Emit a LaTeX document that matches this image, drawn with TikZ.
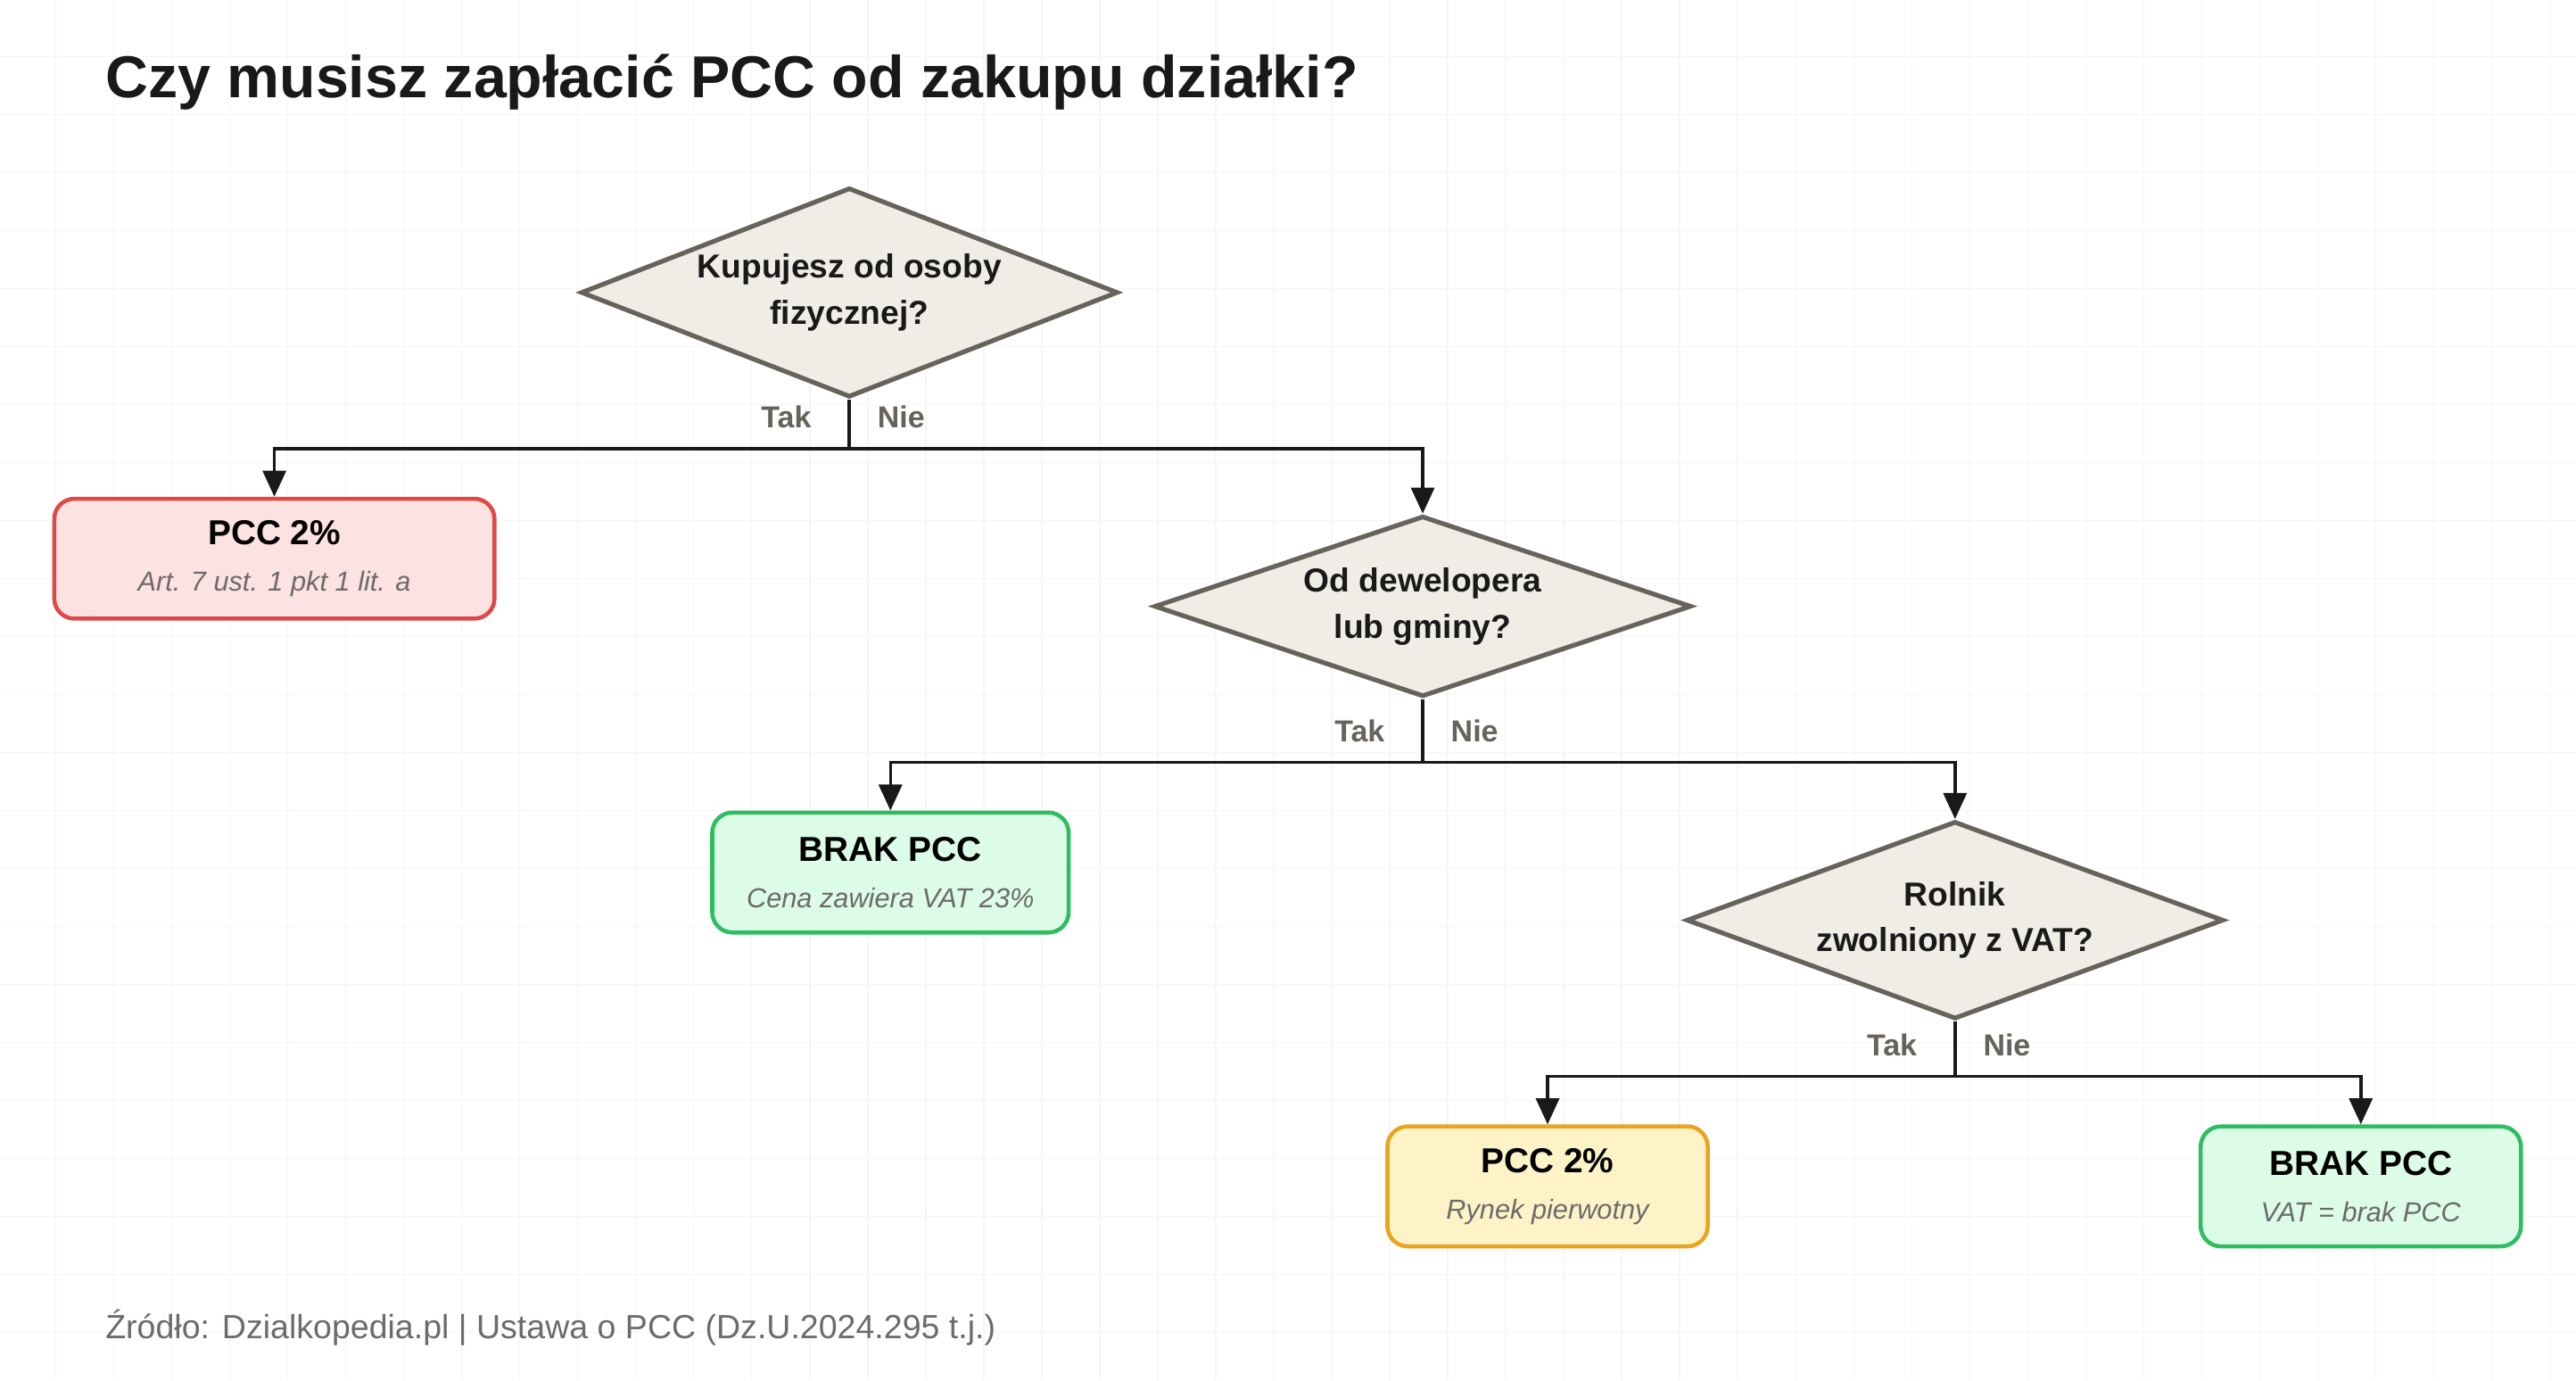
\documentclass[tikz,border=0pt]{standalone}
\usepackage{fontspec}
\setmainfont{Liberation Sans}
\usetikzlibrary{shapes.geometric,positioning,arrows.meta}
\definecolor{inkgray}{HTML}{66625C}
\definecolor{dfill}{HTML}{F0EDE6}
\definecolor{redfill}{HTML}{FDE2E2}
\definecolor{reddraw}{HTML}{E04848}
\definecolor{grnfill}{HTML}{DCFCE7}
\definecolor{grndraw}{HTML}{2EBD5F}
\definecolor{ylwfill}{HTML}{FEF3C7}
\definecolor{ylwdraw}{HTML}{EAA520}
\definecolor{txtgray}{HTML}{6B6B6B}
\tikzset{
  decision/.style={diamond, aspect=2.3, draw=inkgray, fill=dfill, line width=1.6pt, minimum width=6.54cm, inner sep=0pt, align=center, font=\fontsize{11.5}{16}\selectfont\bfseries, text=black!90},
  result/.style={rounded corners=7pt, line width=1.4pt, minimum height=1.46cm, align=center},
  flow/.style={line width=1.1pt, black!90},
  arr/.style={flow, -{Triangle[length=9pt, width=8pt]}},
  yesno/.style={font=\fontsize{10.5}{12}\selectfont\bfseries, text=inkgray}
}
\begin{document}
\begin{tikzpicture}[x=0.02cm, y=-0.02cm]
    \useasboundingbox (0,0) rectangle (1568,840);
    \fill[white] (0,0) rectangle (1568,840);
    % grid
    \foreach \g in {0,...,45}
    {
    \draw[black!4, line width=0.4pt] (34+35.3*\g,0) -- (34+35.3*\g,840);
    \draw[black!4, line width=0.4pt] (0,-1+35.3*\g) -- (1568,-1+35.3*\g);
    }

    \node[anchor=west, font=\fontsize{20.5}{24}\selectfont\bfseries, text=black!90] (title) at (58,50) {Czy musisz zapłacić PCC od zakupu działki?};

    \node[decision] (q1) at (517,178) {Kupujesz od osoby\\fizycznej?};
    \node[decision] (q2) at (866,369) {Od dewelopera\\lub gminy?};
    \node[decision] (q3) at (1190,560) {Rolnik\\zwolniony z VAT?};

    \node[result, draw=reddraw, fill=redfill, minimum width=5.36cm] (r1) at (167,340) {\fontsize{12}{16}\selectfont\bfseries PCC 2\%\\[4pt] \fontsize{9.5}{12}\selectfont\itshape\color{txtgray} Art. 7 ust. 1 pkt 1 lit. a};
    \node[result, draw=grndraw, fill=grnfill, minimum width=4.34cm] (r2) at (542,531) {\fontsize{12}{16}\selectfont\bfseries BRAK PCC\\[4pt] \fontsize{9.5}{12}\selectfont\itshape\color{txtgray} Cena zawiera VAT 23\%};
    \node[result, draw=ylwdraw, fill=ylwfill, minimum width=3.9cm] (r3) at (942,722) {\fontsize{12}{16}\selectfont\bfseries PCC 2\%\\[4pt] \fontsize{9.5}{12}\selectfont\itshape\color{txtgray} Rynek pierwotny};
    \node[result, draw=grndraw, fill=grnfill, minimum width=3.9cm] (r4) at (1437,722) {\fontsize{12}{16}\selectfont\bfseries BRAK PCC\\[4pt] \fontsize{9.5}{12}\selectfont\itshape\color{txtgray} VAT = brak PCC};

    \coordinate (j1) at (517,273);
    \coordinate (j2) at (866,464);
    \coordinate (j3) at (1190,655);

    \draw[flow] (q1.south) -- (j1);
    \draw[arr] (j1) -| (r1.north);
    \draw[arr] (j1) -| (q2.north);
    \draw[flow] (q2.south) -- (j2);
    \draw[arr] (j2) -| (r2.north);
    \draw[arr] (j2) -| (q3.north);
    \draw[flow] (q3.south) -- (j3);
    \draw[arr] (j3) -| (r3.north);
    \draw[arr] (j3) -| (r4.north);

    \node[yesno, anchor=east] (t1) at (500,254) {Tak};
    \node[yesno, anchor=west] (n1) at (528,254) {Nie};
    \node[yesno, anchor=east] (t2) at (849,445) {Tak};
    \node[yesno, anchor=west] (n2) at (877,445) {Nie};
    \node[yesno, anchor=east] (t3) at (1173,636) {Tak};
    \node[yesno, anchor=west] (n3) at (1201,636) {Nie};

    \node[anchor=west, font=\fontsize{11.6}{14}\selectfont, text=txtgray] (src) at (58,808) {Źródło: Dzialkopedia.pl | Ustawa o PCC (Dz.U.2024.295 t.j.)};
\end{tikzpicture}
\end{document}
